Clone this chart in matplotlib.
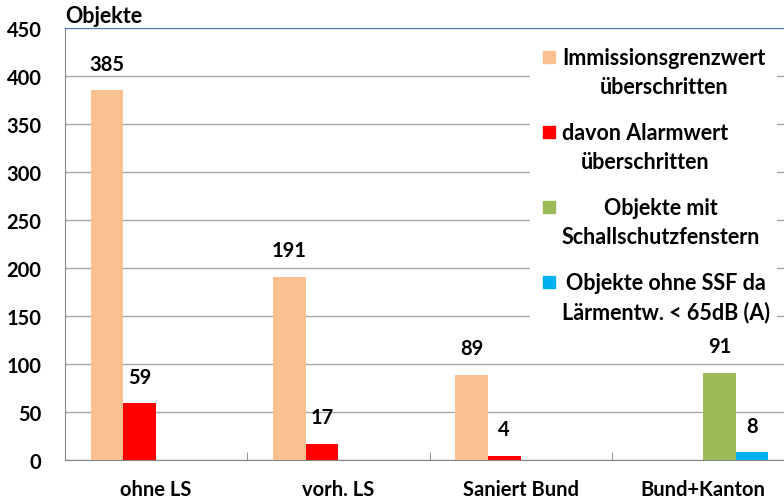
import numpy as np
import matplotlib
matplotlib.use("Agg")
from matplotlib import pyplot as plt
from matplotlib.patches import Rectangle

plt.rcParams["font.family"] = ["Lato", "DejaVu Sans"]
plt.rcParams["font.weight"] = "bold"

categories = ["ohne LS", "vorh. LS", "Saniert Bund", "Bund+Kanton"]
series_names = [
    "Immissionsgrenzwert\nüberschritten",
    "davon Alarmwert\nüberschritten",
    "Objekte mit\nSchallschutzfenstern",
    "Objekte ohne SSF da\nLärmentw. < 65dB (A)",
]
immission = [385, 191, 89, 0]
alarm = [59, 17, 4, 0]
ssf = [0, 0, 0, 91]
ohne_ssf = [0, 0, 0, 8]
colors = ["#FAC090", "#FF0000", "#9BBB59", "#00B0F0"]

# axes runs slightly past the right edge, like the original
AX_L, AX_W = 65, 729
AX_T, AX_H = 29, 432
fig = plt.figure(figsize=(7.84, 5.02), dpi=100)
ax = fig.add_axes([AX_L / 784, 1 - (AX_T + AX_H) / 502, AX_W / 784, AX_H / 502])

x = np.arange(len(categories))
w = 0.18
all_series = [immission, alarm, ssf, ohne_ssf]
for i, (vals, col) in enumerate(zip(all_series, colors)):
    pos = x + (i - 1.5) * w
    ax.bar(pos, vals, w, color=col, zorder=3)
    for p, v in zip(pos, vals):
        if v > 0:
            ax.annotate(str(v), (p, v), xytext=(0, 12), textcoords="offset points",
                        ha="center", va="bottom", fontsize=14.5, fontweight="bold")

ax.set_ylim(0, 450)
ax.set_xlim(-0.5, 3.5)
ax.set_yticks(np.arange(0, 451, 50))
ax.yaxis.grid(True, color="#A6A6A6", linewidth=1, zorder=0)
ax.tick_params(axis="y", length=0, pad=17, labelsize=14.5)
ax.set_xticks(x)
ax.set_xticklabels(categories)
ax.set_xticks(np.arange(0.5, 3.5, 1), minor=True)
ax.tick_params(axis="x", which="major", length=0, pad=14, labelsize=14.5)
ax.tick_params(axis="x", which="minor", length=6, color="#868686", direction="in")
ax.spines["right"].set_visible(False)
ax.spines["top"].set_color("#4A7EBB")
ax.spines["left"].set_color("#868686")
ax.spines["bottom"].set_color("#868686")

ax.text(0, 1.004, "Objekte", transform=ax.transAxes, ha="left", va="bottom",
        fontsize=15.5, fontweight="bold")

# legend drawn by hand: patch next to first line, centered two-line text
def ax_x(px):
    return (px - AX_L) / AX_W

def ax_y(py):
    return 1 - (py - AX_T) / AX_H

ax.add_patch(Rectangle((ax_x(530), ax_y(330)), 247 / AX_W, 288 / AX_H,
                       transform=ax.transAxes, facecolor="white",
                       edgecolor="none", zorder=5))
first_line = [58, 133, 208, 283]
for name, col, fy in zip(series_names, colors, first_line):
    ax.add_patch(Rectangle((ax_x(543), ax_y(fy + 6)), 12 / AX_W, 12 / AX_H,
                           transform=ax.transAxes, color=col, zorder=6))
    ax.text(ax_x(562), ax_y(fy + 15), name, transform=ax.transAxes,
            ha="left", va="center", multialignment="center", fontsize=15.5,
            fontweight="bold", linespacing=1.45, zorder=6)

fig.savefig("out.png", dpi=100)
